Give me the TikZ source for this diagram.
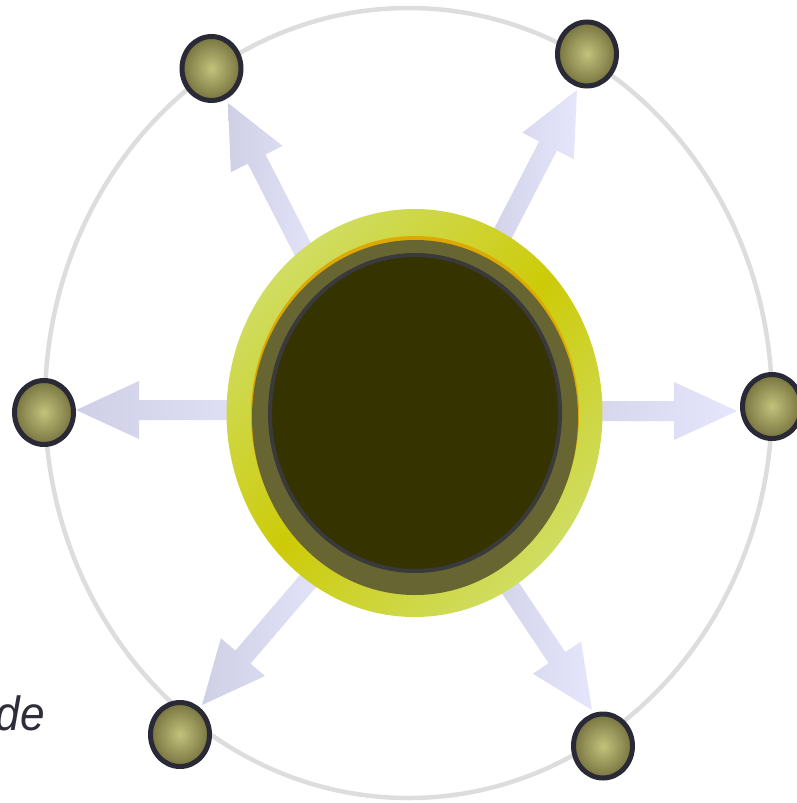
\documentclass[tikz,border=0pt]{standalone}
\usepackage{fontspec}
\setmainfont{Liberation Sans}
\usetikzlibrary{shapes.geometric,calc}
\definecolor{orbitgray}{HTML}{DDDDDD}
\definecolor{arrowdark}{HTML}{CFCFE6}
\definecolor{arrowlight}{HTML}{E5E5FC}
\definecolor{ballin}{HTML}{C4C27C}
\definecolor{ballout}{HTML}{76743F}
\definecolor{ballrim}{HTML}{2A2A36}
\definecolor{hublight}{HTML}{CFDD62}
\definecolor{hubdark}{HTML}{CDCB08}
\definecolor{hubring}{HTML}{676633}
\definecolor{hubedge}{HTML}{DDA800}
\definecolor{hubcore}{HTML}{353300}
\definecolor{hubrim}{HTML}{3A3A3C}
\definecolor{textdark}{HTML}{2E2E3A}
\tikzset{
  orbit/.style={draw=orbitgray, line width=4.5pt},
  arrowshade/.style={left color=arrowdark, right color=arrowlight},
  ball/.style={ellipse, minimum width=59pt, minimum height=64pt, inner sep=0pt,
    draw=ballrim, line width=5pt, inner color=ballin, outer color=ballout},
  hubouter/.style={ellipse, minimum width=376pt, minimum height=408pt, inner sep=0pt,
    top color=hublight, bottom color=hublight, middle color=hubdark, shading angle=45},
  hubedgestyle/.style={ellipse, minimum width=328pt, minimum height=357pt, inner sep=0pt, fill=hubedge},
  hubringstyle/.style={ellipse, minimum width=326pt, minimum height=355pt, inner sep=0pt, fill=hubring},
  hubcorestyle/.style={ellipse, minimum width=290pt, minimum height=316pt, inner sep=0pt,
    fill=hubcore, draw=hubrim, line width=4pt},
  label/.style={font=\itshape\fontsize{48pt}{48pt}\selectfont, text=textdark, inner sep=0pt, xscale=0.92}
}
\newcommand\fatarr[2]{%
  \coordinate (#1b) at ($(#2)!63pt!(#1)$);
  \path[arrowshade] ($(#1)!10pt!-90:(#1b)$) -- ($(#1b)!10pt!90:(#1)$) -- ($(#1b)!29pt!90:(#1)$)
    -- (#2) -- ($(#1b)!29pt!-90:(#1)$) -- ($(#1b)!10pt!-90:(#1)$) -- ($(#1)!10pt!90:(#1b)$) -- cycle;}
\begin{document}
\begin{tikzpicture}[x=1pt,y=-1pt]
\useasboundingbox (0,0) rectangle (796,803);
% orbit
\draw[orbit] (408.5,403) ellipse [x radius=363.5, y radius=395];
% positions
\coordinate (hubc) at (414.5,413);
\coordinate (n1c) at (211.5,68.5);
\coordinate (n2c) at (587,54);
\coordinate (n3c) at (44,412.5);
\coordinate (n4c) at (772,406.5);
\coordinate (n5c) at (180,734.5);
\coordinate (n6c) at (603,746);
% arrow ends
\coordinate (s1) at ($(hubc)+(-95.5,-132)$);
\coordinate (s2) at ($(hubc)+(70.5,-145)$);
\coordinate (s3) at ($(hubc)+(-114.5,-3)$);
\coordinate (s4) at ($(hubc)+(115.5,-2)$);
\coordinate (s5) at ($(hubc)+(-82.5,140)$);
\coordinate (s6) at ($(hubc)+(66.5,131)$);
\coordinate (t1) at ($(n1c)+(16.5,34.5)$);
\coordinate (t2) at ($(n2c)+(-10,36)$);
\coordinate (t3) at ($(n3c)+(32,-2.5)$);
\coordinate (t4) at ($(n4c)+(-35,4.5)$);
\coordinate (t5) at ($(n5c)+(22,-29.5)$);
\coordinate (t6) at ($(n6c)+(-11,-36)$);
% arrows
\fatarr{s1}{t1}
\fatarr{s2}{t2}
\fatarr{s3}{t3}
\fatarr{s4}{t4}
\fatarr{s5}{t5}
\fatarr{s6}{t6}
% satellites
\node[ball] (n1) at (n1c) {};
\node[ball] (n2) at (n2c) {};
\node[ball] (n3) at (n3c) {};
\node[ball] (n4) at (n4c) {};
\node[ball] (n5) at (n5c) {};
\node[ball] (n6) at (n6c) {};
% hub
\node[hubouter] (hub) at (hubc) {};
\node[hubedgestyle] (hubedge) at (415,414.5) {};
\node[hubringstyle] (hubring) at (415,417.5) {};
\node[hubcorestyle] (hubcore) at (415,413) {};
% label
\node[label, anchor=base east] (lbl) at (45,730) {de};
\end{tikzpicture}
\end{document}
